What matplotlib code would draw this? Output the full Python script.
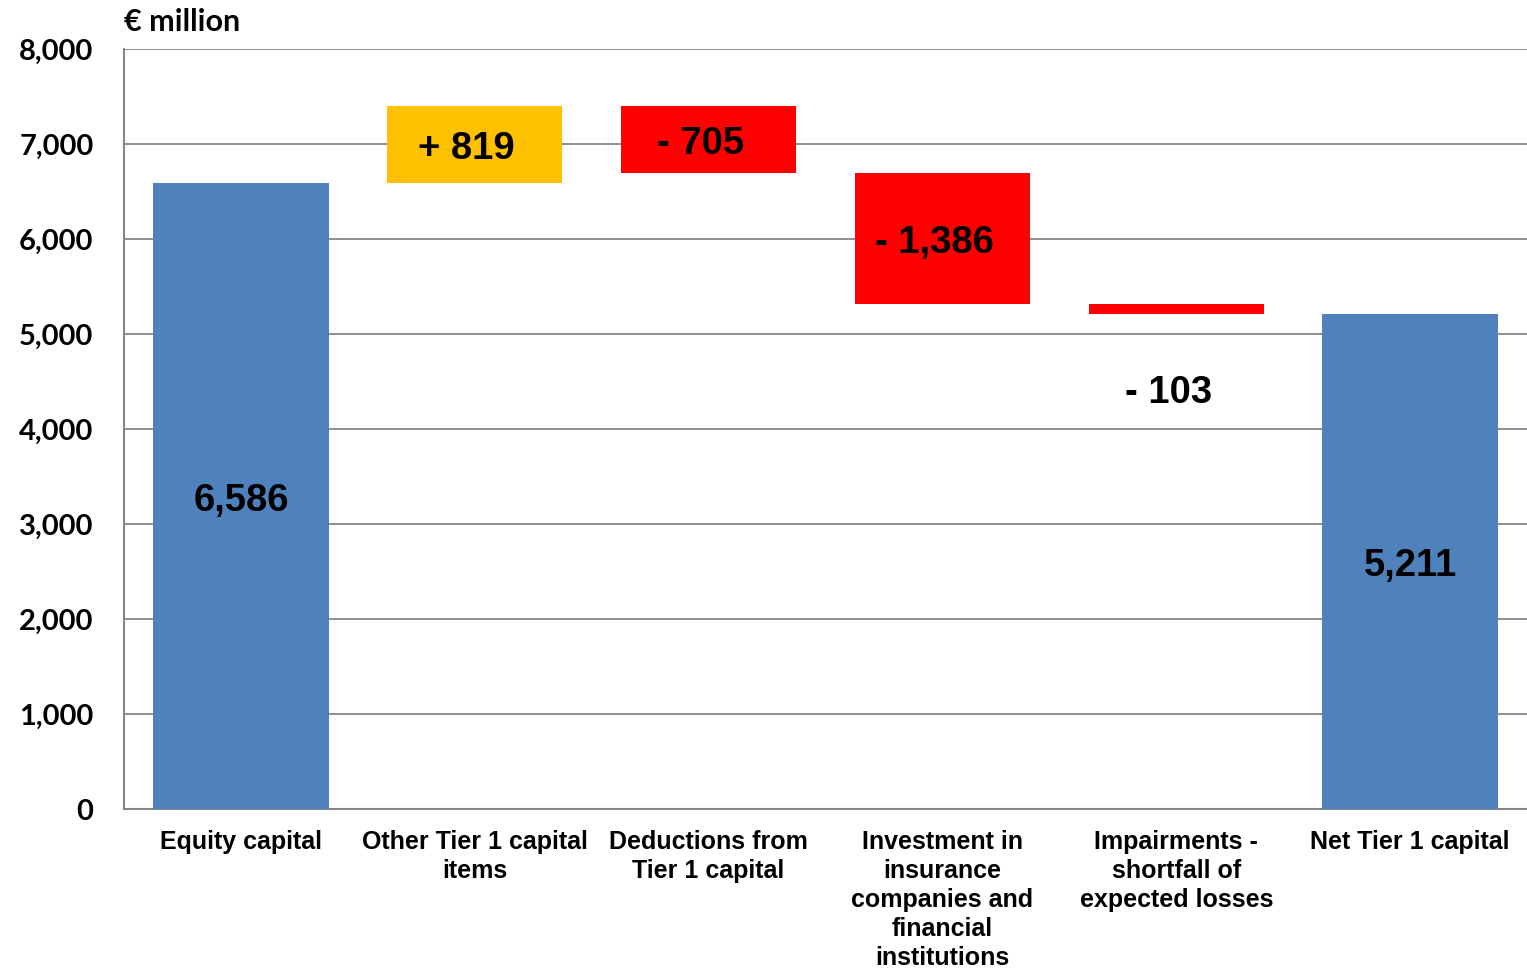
import numpy as np
import matplotlib.pyplot as plt

# categories and values (EUR million)
categories = ["Equity capital", "Other Tier 1 capital\nitems", "Deductions from\nTier 1 capital",
              "Investment in\ninsurance\ncompanies and\nfinancial\ninstitutions",
              "Impairments -\nshortfall of\nexpected losses", "Net Tier 1 capital"]
changes = [6586, 819, -705, -1386, -103]
total = 5211
labels = ["6,586", "+ 819", "- 705", "- 1,386", "- 103", "5,211"]
yticks = [0, 1000, 2000, 3000, 4000, 5000, 6000, 7000, 8000]

# waterfall geometry
run = np.cumsum(changes)
bottoms = [0] + list(np.minimum(run[:-1], run[1:])) + [0]
heights = [changes[0]] + [abs(c) for c in changes[1:]] + [total]
colors = ["#4F81BD", "#FFC000", "#FF0000", "#FF0000", "#FF0000", "#4F81BD"]

fig = plt.figure(figsize=(15.27, 9.69), dpi=100)
ax = fig.add_axes([124/1527, 1 - 809/969, 1 - 124/1527, (809 - 49)/969])

x = np.arange(len(categories))
ax.bar(x, heights, bottom=bottoms, width=0.75, color=colors, zorder=3)

ax.set_ylim(0, 8000)
ax.set_xlim(-0.5, 5.5)
ax.set_yticks(yticks)
ax.set_yticklabels([f"{v:,}" for v in yticks], fontfamily="Lato", fontweight="bold", fontsize=21)
ax.set_xticks(x)
ax.set_xticklabels(categories, fontfamily="Liberation Sans", fontweight="bold", fontsize=18,
                   linespacing=1.26)
ax.tick_params(axis="x", length=0, pad=15)
ax.tick_params(axis="y", length=0, pad=22)

ax.grid(axis="y", color="#868686", lw=1.3, zorder=0)
for s in ["top", "right"]:
    ax.spines[s].set_visible(False)
for s in ["left", "bottom"]:
    ax.spines[s].set_color("#868686")
    ax.spines[s].set_linewidth(1.5)

# value labels
for i in range(len(categories)):
    dx = 0 if i in (0, 5) else -0.035
    if i == 4:
        ypos = bottoms[i] - 830
    else:
        ypos = bottoms[i] + heights[i] / 2 - 50
    ax.text(x[i] + dx, ypos, labels[i], ha="center", va="center", fontsize=27.5,
            fontfamily="Liberation Sans", fontweight="bold", zorder=4)

fig.text(124/1527, 1 - 22/969, "€ million", ha="left", va="center",
         fontfamily="Lato", fontweight="bold", fontsize=22)

fig.savefig("out.png", dpi=100)
